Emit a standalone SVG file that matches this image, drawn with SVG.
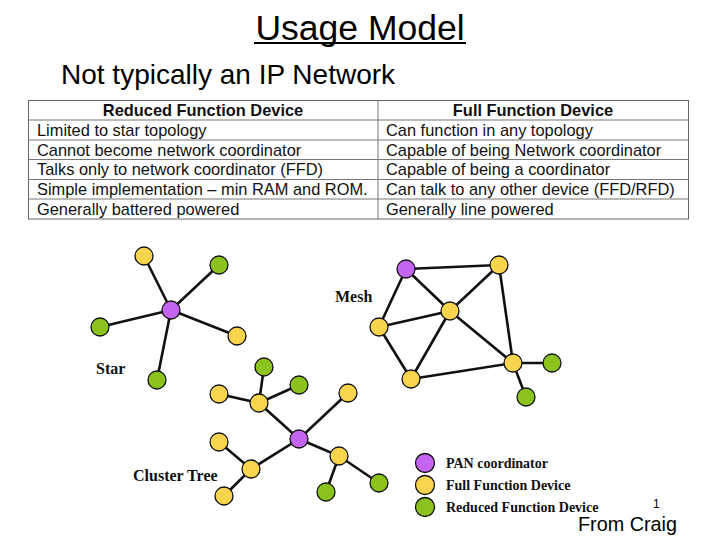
<svg xmlns="http://www.w3.org/2000/svg" width="720" height="540" viewBox="0 0 720 540">
<style>
.sans{font-family:"Liberation Sans",Arial,sans-serif;fill:#000}
.serif{font-family:"Liberation Serif","Times New Roman",serif;font-weight:bold;fill:#111}
.cell{font-family:"Liberation Sans",Arial,sans-serif;font-size:16.4px;fill:#111}
.hdr{font-weight:bold}
.grid line{stroke:#777;stroke-width:1}
.edges line{stroke:#111;stroke-width:2.6;stroke-linecap:round}
.pan{fill:#c465f2;stroke:#111;stroke-width:1.3}
.ffd{fill:#f9d54d;stroke:#111;stroke-width:1.3}
.rfd{fill:#8cc21e;stroke:#111;stroke-width:1.3}
</style>
<rect width="720" height="540" fill="#fff"/>
<g id="title">
<text class="sans" x="360" y="40" font-size="35.5" text-anchor="middle">Usage Model</text>
<line x1="254" y1="43" x2="466" y2="43" stroke="#000" stroke-width="2"/>
</g>
<text id="subtitle" class="sans" x="61" y="84" font-size="28">Not typically an IP Network</text>
<g id="table">
<rect x="28.5" y="100.5" width="660" height="118.5" fill="#fff" stroke="#666" stroke-width="1"/>
<g class="grid">
<line x1="28.5" y1="120" x2="688.5" y2="120"/>
<line x1="28.5" y1="140" x2="688.5" y2="140"/>
<line x1="28.5" y1="159.5" x2="688.5" y2="159.5"/>
<line x1="28.5" y1="179.5" x2="688.5" y2="179.5"/>
<line x1="28.5" y1="199" x2="688.5" y2="199"/>
<line x1="378" y1="100.5" x2="378" y2="219"/>
</g>
<text class="cell hdr" x="203" y="116" text-anchor="middle">Reduced Function Device</text>
<text class="cell hdr" x="533" y="116" text-anchor="middle">Full Function Device</text>
<text class="cell" x="37" y="135.5">Limited to star topology</text>
<text class="cell" x="37" y="155.5">Cannot become network coordinator</text>
<text class="cell" x="37" y="175">Talks only to network coordinator (FFD)</text>
<text class="cell" x="37" y="195">Simple implementation – min RAM and ROM.</text>
<text class="cell" x="37" y="214.5">Generally battered powered</text>
<text class="cell" x="386" y="135.5">Can function in any topology</text>
<text class="cell" x="386" y="155.5">Capable of being Network coordinator</text>
<text class="cell" x="386" y="175">Capable of being a coordinator</text>
<text class="cell" x="386" y="195">Can talk to any other device (FFD/RFD)</text>
<text class="cell" x="386" y="214.5">Generally line powered</text>
</g>
<g id="connectors" class="edges">
<!-- star -->
<line x1="171" y1="310" x2="144" y2="256"/>
<line x1="171" y1="310" x2="219" y2="265"/>
<line x1="171" y1="310" x2="100" y2="327"/>
<line x1="171" y1="310" x2="237" y2="336"/>
<line x1="171" y1="310" x2="157" y2="380"/>
<!-- mesh -->
<line x1="406" y1="269" x2="499" y2="265"/>
<line x1="406" y1="269" x2="450" y2="311"/>
<line x1="406" y1="269" x2="379" y2="327"/>
<line x1="379" y1="327" x2="450" y2="311"/>
<line x1="379" y1="327" x2="411" y2="379"/>
<line x1="450" y1="311" x2="499" y2="265"/>
<line x1="450" y1="311" x2="411" y2="379"/>
<line x1="450" y1="311" x2="513" y2="363"/>
<line x1="499" y1="265" x2="513" y2="363"/>
<line x1="411" y1="379" x2="513" y2="363"/>
<line x1="513" y1="363" x2="552" y2="363"/>
<line x1="513" y1="363" x2="526" y2="397"/>
<!-- cluster tree -->
<line x1="299" y1="439" x2="259" y2="403"/>
<line x1="299" y1="439" x2="348" y2="393"/>
<line x1="299" y1="439" x2="251" y2="469"/>
<line x1="299" y1="439" x2="339" y2="456"/>
<line x1="259" y1="403" x2="264" y2="367"/>
<line x1="259" y1="403" x2="299" y2="385"/>
<line x1="259" y1="403" x2="219" y2="394"/>
<line x1="251" y1="469" x2="219" y2="442"/>
<line x1="251" y1="469" x2="224" y2="496"/>
<line x1="339" y1="456" x2="326" y2="492"/>
<line x1="339" y1="456" x2="379" y2="483"/>
</g>
<g id="star">
<circle class="pan" cx="171" cy="310" r="9"/>
<circle class="ffd" cx="144" cy="256" r="9"/>
<circle class="rfd" cx="219" cy="265" r="9"/>
<circle class="rfd" cx="100" cy="327" r="9"/>
<circle class="ffd" cx="237" cy="336" r="9"/>
<circle class="rfd" cx="157" cy="380" r="9"/>
<text class="serif" x="96" y="374" font-size="16">Star</text>
</g>
<g id="mesh">
<circle class="pan" cx="406" cy="269" r="9"/>
<circle class="ffd" cx="499" cy="265" r="9"/>
<circle class="ffd" cx="450" cy="311" r="9"/>
<circle class="ffd" cx="379" cy="327" r="9"/>
<circle class="ffd" cx="411" cy="379" r="9"/>
<circle class="ffd" cx="513" cy="363" r="9"/>
<circle class="rfd" cx="552" cy="363" r="9"/>
<circle class="rfd" cx="526" cy="397" r="9"/>
<text class="serif" x="335" y="302" font-size="16">Mesh</text>
</g>
<g id="cluster-tree">
<circle class="pan" cx="299" cy="439" r="9"/>
<circle class="ffd" cx="259" cy="403" r="9"/>
<circle class="rfd" cx="264" cy="367" r="9"/>
<circle class="rfd" cx="299" cy="385" r="9"/>
<circle class="ffd" cx="219" cy="394" r="9"/>
<circle class="ffd" cx="348" cy="393" r="9"/>
<circle class="ffd" cx="251" cy="469" r="9"/>
<circle class="ffd" cx="219" cy="442" r="9"/>
<circle class="ffd" cx="224" cy="496" r="9"/>
<circle class="ffd" cx="339" cy="456" r="9"/>
<circle class="rfd" cx="326" cy="492" r="9"/>
<circle class="rfd" cx="379" cy="483" r="9"/>
<text class="serif" x="133" y="481" font-size="16">Cluster Tree</text>
</g>
<g id="legend">
<circle class="pan" cx="425" cy="463" r="9.5"/>
<circle class="ffd" cx="425" cy="485" r="9.5"/>
<circle class="rfd" cx="425" cy="507" r="9.5"/>
<text class="serif" x="446" y="468" font-size="14">PAN coordinator</text>
<text class="serif" x="446" y="490" font-size="14">Full Function Device</text>
<text class="serif" x="446" y="512" font-size="14">Reduced Function Device</text>
</g>
<text id="page-number" class="sans" x="653" y="508" font-size="12">1</text>
<text id="credit" class="sans" x="578" y="531" font-size="19.8">From Craig</text>
</svg>
